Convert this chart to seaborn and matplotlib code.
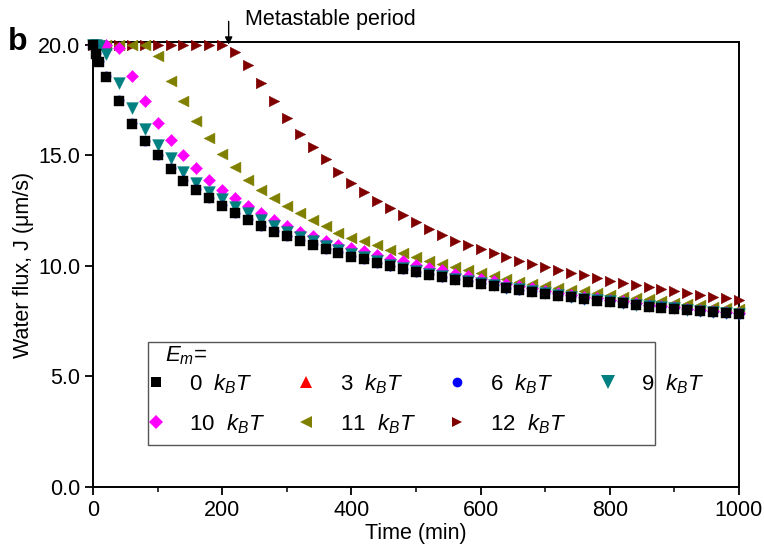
import matplotlib
matplotlib.use("Agg")
import matplotlib.pyplot as plt
import seaborn as sns
import pandas as pd
from matplotlib.lines import Line2D
from matplotlib.patches import Rectangle
from matplotlib.ticker import MultipleLocator, FormatStrFormatter

# ---------------- data ----------------
time_min = [0, 5, 10, 20, 40, 60, 80, 100, 120, 140, 160, 180, 200, 220, 240, 260, 280, 300,
            320, 340, 360, 380, 400, 420, 440, 460, 480, 500, 520, 540, 560, 580, 600,
            620, 640, 660, 680, 700, 720, 740, 760, 780, 800, 820, 840, 860, 880, 900,
            920, 940, 960, 980, 1000]

J_0kT = [20.0, 19.60, 19.22, 18.55, 17.46, 16.42, 15.63, 14.99, 14.40, 13.85, 13.44, 13.06, 12.71,
         12.38, 12.08, 11.80, 11.55, 11.33, 11.13, 10.95, 10.76, 10.60, 10.42, 10.30, 10.12, 9.97,
         9.85, 9.71, 9.59, 9.49, 9.37, 9.29, 9.19, 9.10, 8.99, 8.90, 8.82, 8.73, 8.65, 8.57, 8.49,
         8.43, 8.38, 8.31, 8.24, 8.16, 8.11, 8.07, 8.01, 7.96, 7.90, 7.86, 7.81]

J_3kT = [20.0, 19.60, 19.22, 18.55, 17.46, 16.42, 15.63, 14.99, 14.40, 13.85, 13.44, 13.06, 12.71,
         12.38, 12.08, 11.80, 11.55, 11.33, 11.13, 10.95, 10.76, 10.60, 10.42, 10.30, 10.12, 9.97,
         9.85, 9.71, 9.59, 9.49, 9.37, 9.29, 9.19, 9.10, 8.99, 8.90, 8.82, 8.73, 8.65, 8.57, 8.49,
         8.43, 8.38, 8.31, 8.24, 8.16, 8.11, 8.07, 8.01, 7.96, 7.90, 7.86, 7.81]

J_6kT = [20.0, 19.62, 19.24, 18.58, 17.49, 16.45, 15.66, 15.01, 14.42, 13.87, 13.46, 13.08, 12.73,
         12.40, 12.10, 11.82, 11.57, 11.35, 11.15, 10.97, 10.78, 10.62, 10.44, 10.32, 10.14, 9.99,
         9.87, 9.73, 9.61, 9.51, 9.39, 9.31, 9.21, 9.12, 9.01, 8.92, 8.84, 8.75, 8.67, 8.59, 8.51,
         8.45, 8.40, 8.33, 8.26, 8.18, 8.13, 8.09, 8.03, 7.98, 7.92, 7.88, 7.83]

J_9kT = [20.0, 20.0, 19.93, 19.59, 18.27, 17.14, 16.19, 15.48, 14.86, 14.26, 13.76, 13.36, 13.02,
         12.68, 12.38, 12.08, 11.81, 11.55, 11.30, 11.10, 10.90, 10.72, 10.52, 10.38, 10.20, 10.04,
         9.91, 9.77, 9.64, 9.53, 9.41, 9.32, 9.22, 9.13, 9.02, 8.93, 8.84, 8.75, 8.67, 8.59, 8.51,
         8.45, 8.39, 8.32, 8.25, 8.18, 8.12, 8.08, 8.02, 7.97, 7.91, 7.87, 7.82]

J_10kT = [20.0, 20.0, 20.0, 20.0, 19.85, 18.60, 17.44, 16.46, 15.68, 15.00, 14.42, 13.86, 13.44,
          13.06, 12.71, 12.38, 12.08, 11.81, 11.55, 11.33, 11.13, 10.95, 10.80, 10.65, 10.50, 10.32,
          10.20, 10.05, 9.90, 9.79, 9.64, 9.52, 9.41, 9.30, 9.18, 9.07, 8.98, 8.88, 8.79, 8.70, 8.61,
          8.54, 8.47, 8.40, 8.32, 8.25, 8.19, 8.13, 8.07, 8.02, 7.96, 7.91, 7.86]

J_11kT = [20.0, 20.0, 20.0, 20.0, 20.0, 20.0, 20.0, 19.47, 18.37, 17.43, 16.53, 15.77, 15.05,
          14.45, 13.90, 13.43, 13.06, 12.70, 12.39, 12.08, 11.78, 11.50, 11.28, 11.10, 10.92, 10.72,
          10.57, 10.39, 10.24, 10.09, 9.94, 9.82, 9.67, 9.55, 9.41, 9.29, 9.19, 9.08, 8.99, 8.91,
          8.84, 8.76, 8.66, 8.61, 8.54, 8.49, 8.43, 8.34, 8.28, 8.24, 8.16, 8.09, 8.04]

J_12kT = [20.0, 20.0, 20.0, 20.0, 20.0, 20.0, 20.0, 20.0, 20.0, 20.0, 20.0, 20.0, 20.0,
          19.65, 19.10, 18.28, 17.45, 16.70, 15.97, 15.38, 14.81, 14.25, 13.74, 13.33, 12.95, 12.61,
          12.28, 11.96, 11.66, 11.40, 11.14, 10.95, 10.76, 10.57, 10.39, 10.23, 10.08, 9.94, 9.80,
          9.67, 9.57, 9.47, 9.33, 9.24, 9.14, 9.04, 8.95, 8.84, 8.76, 8.69, 8.61, 8.54, 8.46]

series_labels = ["0  $k_BT$", "3  $k_BT$", "6  $k_BT$", "9  $k_BT$",
                 "10  $k_BT$", "11  $k_BT$", "12  $k_BT$"]
series_values = [J_0kT, J_3kT, J_6kT, J_9kT, J_10kT, J_11kT, J_12kT]

x_ticks = [0, 200, 400, 600, 800, 1000]
y_ticks = [0.0, 5.0, 10.0, 15.0, 20.0]

# ---------------- style ----------------
colors = ["#000000", "#FF0000", "#0000FF", "#008080", "#FF00FF", "#808000", "#800000"]
markers = ["s", "^", "o", "v", "D", "<", ">"]
sizes = [46, 38, 44, 72, 38, 62, 58]
zorders = [10, 9, 8, 7, 6, 5, 4]

sns.set_style("ticks")
plt.rcParams["font.family"] = ["Liberation Sans", "DejaVu Sans"]
plt.rcParams["mathtext.fontset"] = "custom"
plt.rcParams["mathtext.rm"] = "Liberation Sans"
plt.rcParams["mathtext.it"] = "Liberation Sans:italic"
plt.rcParams["mathtext.bf"] = "Liberation Sans:bold"
for key in ["text.color", "axes.labelcolor", "xtick.color", "ytick.color", "axes.edgecolor"]:
    plt.rcParams[key] = "black"

FS = 15.5

fig = plt.figure(figsize=(7.64, 5.53), dpi=100)
ax = fig.add_axes([93 / 764, 1 - 487 / 553, 646 / 764, 445 / 553])

for lab, vals, c, m, s, z in zip(series_labels, series_values, colors, markers, sizes, zorders):
    df = pd.DataFrame({"t": time_min, "J": vals})
    sns.scatterplot(data=df, x="t", y="J", ax=ax, marker=m, color=c, s=s,
                    edgecolor=c, linewidth=0.3, zorder=z, clip_on=False, legend=False)

ax.set_xlim(0, 1000)
ax.set_ylim(0, 20.12)
ax.set_xticks(x_ticks)
ax.set_yticks(y_ticks)
ax.xaxis.set_minor_locator(MultipleLocator(100))
ax.yaxis.set_major_formatter(FormatStrFormatter("%.1f"))
ax.tick_params(axis="both", which="major", direction="out", length=6, width=1.3,
               labelsize=FS, pad=3, colors="black")
ax.tick_params(axis="x", which="minor", direction="out", length=3.5, width=1.1, colors="black")
for sp in ax.spines.values():
    sp.set_visible(True)
    sp.set_linewidth(1.4)
    sp.set_color("black")

ax.set_xlabel("Time (min)", fontsize=FS, labelpad=2)
ax.set_ylabel("Water flux, J (\u03bcm/s)", fontsize=FS, labelpad=3)

# Metastable period arrow
ax.annotate("", xy=(210, 20.0), xytext=(210, 21.05),
            arrowprops=dict(arrowstyle="-|>", color="black", lw=1.0, mutation_scale=11,
                            shrinkA=0, shrinkB=0),
            annotation_clip=False)
ax.text(236, 21.13, "Metastable period", fontsize=FS, va="center", ha="left")

fig.text(8 / 764, 1 - 50 / 553, "b", fontsize=23, fontweight="bold", va="baseline", ha="left")

# legend
handles = [Line2D([], [], linestyle="", marker=m, color=c, markersize=ms, markeredgewidth=0)
           for m, c, ms in zip(markers, colors, [6.5, 9.0, 7.0, 9.5, 7.5, 8.0, 7.5])]
order = [0, 4, 1, 5, 2, 6, 3]
LFS = 16
leg = ax.legend([handles[i] for i in order], [series_labels[i] for i in order],
                ncol=4, loc="upper left", bbox_to_anchor=(0.080, 0.2585),
                frameon=False, fontsize=LFS, handlelength=1.0, handletextpad=1.0,
                columnspacing=1.35, labelspacing=0.75, borderpad=0.0, borderaxespad=0.0)
leg.set_zorder(20)
ax.text((165 - 93) / 646, (487 - 356) / 445, "$E_m$=", transform=ax.transAxes,
        fontsize=LFS, ha="left", va="center", zorder=20)
ax.add_patch(Rectangle((0.085, 0.094), 0.785, 0.232, transform=ax.transAxes,
                       fill=False, edgecolor="#555555", linewidth=1.0, zorder=19))

fig.savefig("out.png", dpi=100, facecolor="white")
